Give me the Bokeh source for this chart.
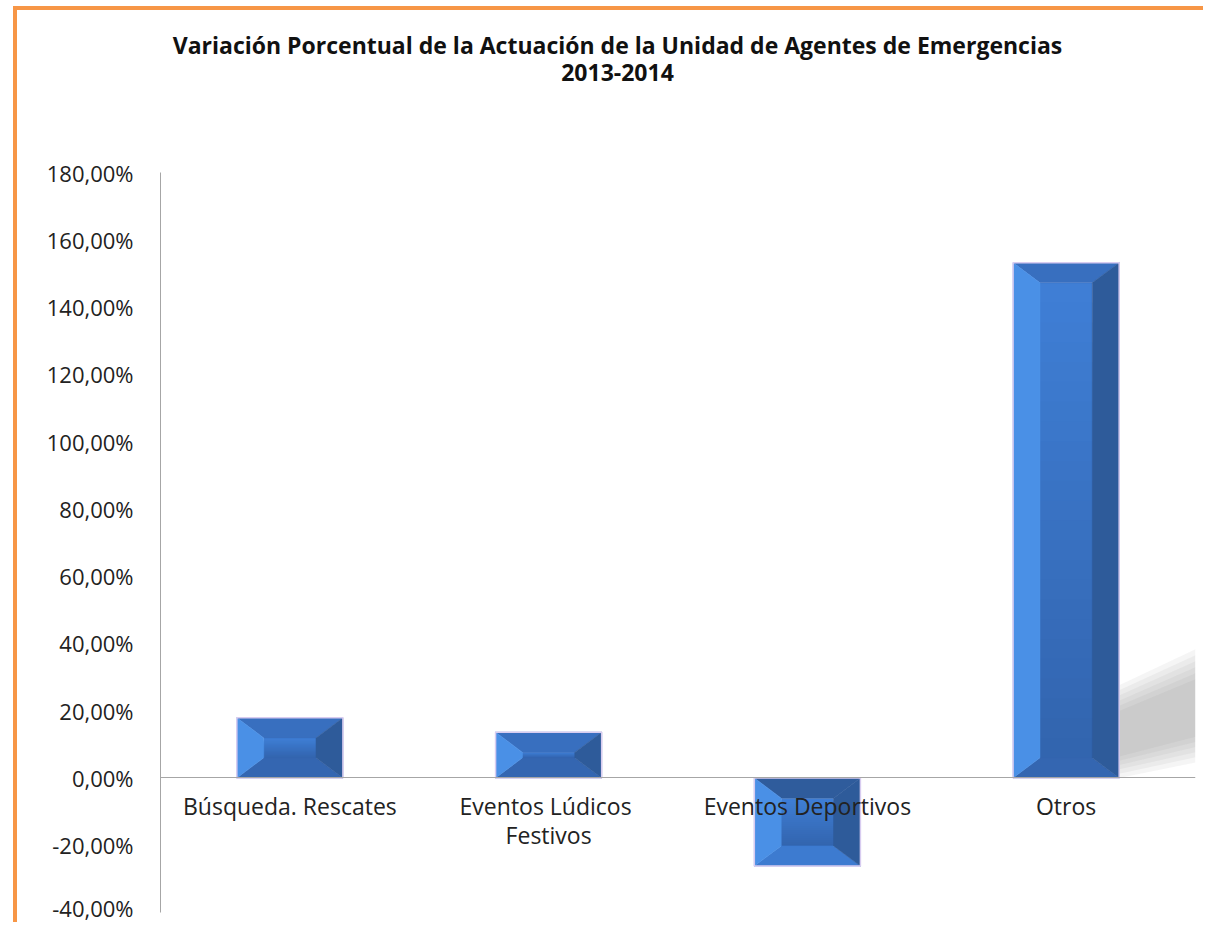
import numpy as np
from bokeh.plotting import figure
from bokeh.models import FixedTicker, Label, Range1d
from bokeh.embed import file_html
from bokeh.resources import INLINE

# ---------------- data ----------------
categories = ["Búsqueda. Rescates", "Eventos  Lúdicos\nFestivos", "Eventos Deportivos", "Otros"]
variation = [17.9, 13.6, -26.2, 153.2]          # % change 2013-2014
y_ticks = [-40, -20, 0, 20, 40, 60, 80, 100, 120, 140, 160, 180]
y_tick_labels = ["-40,00%", "-20,00%", "0,00%", "20,00%", "40,00%", "60,00%",
                 "80,00%", "100,00%", "120,00%", "140,00%", "160,00%", "180,00%"]
title_line1 = "Variación Porcentual de la Actuación de la Unidad de Agentes de Emergencias"
title_line2 = "2013-2014"

# ---------------- layout (pixels) ----------------
W, H = 1190, 916
LEFT, RIGHT, BOTTOM = 143, 12, 14
AXIS_TOP_PX = 162                      # where the 180 % tick sits, from canvas top
y_lo, y_hi = y_ticks[0], y_ticks[-1]
frame_h = H - BOTTOM
px_per_unit = (frame_h - AXIS_TOP_PX) / (y_hi - y_lo)
y_top = y_hi + AXIS_TOP_PX / px_per_unit

p = figure(width=W, height=H, output_backend="svg", toolbar_location=None,
           x_range=Range1d(0.5, len(categories) + 0.5), y_range=Range1d(y_lo, y_top),
           min_border_left=LEFT, min_border_right=RIGHT, min_border_top=0,
           min_border_bottom=BOTTOM)
p.styles = {"border-top": "4px solid #F79646", "border-left": "4px solid #F79646",
            "margin-left": "13px", "margin-top": "6px"}
p.outline_line_color = None
p.grid.visible = False
p.background_fill_color = "white"
p.border_fill_color = "white"

FONT = "Open Sans"
AX = "#A6A6A6"
TXT = "#222222"

# y axis
p.yaxis.ticker = FixedTicker(ticks=y_ticks)
p.yaxis.bounds = (y_lo, y_hi)
p.yaxis.major_label_overrides = {t: s for t, s in zip(y_ticks, y_tick_labels)}
p.yaxis.major_tick_line_color = None
p.yaxis.minor_tick_line_color = None
p.yaxis.major_tick_out = 0
p.yaxis.major_tick_in = 0
p.yaxis.minor_tick_out = 0
p.yaxis.axis_line_color = AX
p.yaxis.major_label_standoff = 27
p.yaxis.major_label_text_font = FONT
p.yaxis.major_label_text_font_size = "22px"
p.yaxis.major_label_text_color = TXT

# x axis at zero
cat_pos = list(range(1, len(categories) + 1))
p.xaxis.ticker = FixedTicker(ticks=cat_pos)
p.xaxis.major_label_overrides = {c: s for c, s in zip(cat_pos, categories)}
p.xaxis.fixed_location = 0
p.xaxis.major_tick_line_color = None
p.xaxis.minor_tick_line_color = None
p.xaxis.major_tick_out = 0
p.xaxis.major_tick_in = 0
p.xaxis.axis_line_color = AX
p.xaxis.major_label_standoff = 12
p.xaxis.major_label_text_font = FONT
p.xaxis.major_label_text_font_size = "23px"
p.xaxis.major_label_text_line_height = 0.9
p.xaxis.major_label_text_color = TXT

# ---------------- bevelled bars ----------------
bar_w = 0.41
bev_x = 0.104
bev_y = 6.0

def lerp(c1, c2, t):
    a = [int(c1[i:i + 2], 16) for i in (1, 3, 5)]
    b = [int(c2[i:i + 2], 16) for i in (1, 3, 5)]
    return "#%02x%02x%02x" % tuple(round(a[k] + (b[k] - a[k]) * t) for k in range(3))

face_xs, face_ys, face_c = [], [], []
st_xs, st_ys, st_c = [], [], []
out_xs, out_ys = [], []
sh_xs, sh_ys = [], []
for xc, v in zip(cat_pos, variation):
    x0, x1 = xc - bar_w / 2, xc + bar_w / 2
    top, bot = max(v, 0), min(v, 0)
    h = top - bot
    by = min(bev_y, h / 2)
    bx = bev_x
    ix0, ix1, it, ib = x0 + bx, x1 - bx, top - by, bot + by
    # face, graded from top to bottom (each band runs to the bottom so no seams)
    n = 24
    for k in range(n):
        ya = it - (it - ib) * k / n
        face_xs.append([ix0, ix1, ix1, ix0])
        face_ys.append([ib, ib, ya, ya])
        face_c.append(lerp("#3f7fd6", "#3264ae", (k + 0.5) / n))
    # bevel strips: top, bottom, left, right
    st_xs += [[x0, x1, ix1, ix0], [x0, x1, ix1, ix0], [x0, ix0, ix0, x0], [x1, ix1, ix1, x1]]
    st_ys += [[top, top, it, it], [bot, bot, ib, ib], [bot, ib, it, top], [bot, ib, it, top]]
    st_c += ["#386fbf" if v > 0 else "#2f5c9c",
             "#3d7bd0" if v < 0 else "#3466b1",
             "#4a90e6", "#2e5b9a"]
    out_xs.append([x0, x1, x1, x0])
    out_ys.append([bot, bot, top, top])
    if v > 60:
        xr = len(categories) + 0.5
        for j in range(6):
            s = j / 6
            sh_xs.append([x1, x1, xr, xr])
            sh_ys.append([v * (0.0 + 0.05 * s), v * (0.18 - 0.06 * s),
                          v * (0.25 - 0.07 * s), v * (0.03 + 0.06 * s)])

p.patches(sh_xs, sh_ys, fill_color="#7a7a7a", fill_alpha=0.075, line_color=None)
p.patches(face_xs, face_ys, fill_color=face_c, line_color=None)
p.patches(st_xs, st_ys, fill_color=st_c, line_color=st_c, line_width=0.5)
p.patches(out_xs, out_ys, fill_color=None, line_color="#d8ccf0", line_width=1.5)

# ---------------- title ----------------
tx = 617 - 17 - LEFT
p.add_layout(Label(x=tx, y=frame_h - 34, x_units="screen", y_units="screen", text=title_line1,
                   text_align="center", text_baseline="middle", text_font=FONT,
                   text_font_style="bold", text_font_size="23px", text_color="#111111"))
p.add_layout(Label(x=tx, y=frame_h - 62, x_units="screen", y_units="screen", text=title_line2,
                   text_align="center", text_baseline="middle", text_font=FONT,
                   text_font_style="bold", text_font_size="23px", text_color="#111111"))

open("out.html", "w").write(file_html(p, INLINE))
